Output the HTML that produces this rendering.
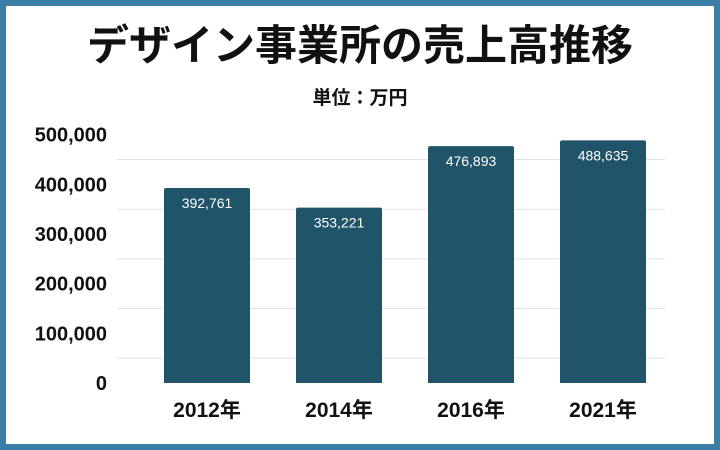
<!DOCTYPE html>
<html><head><meta charset="utf-8"><style>
html,body{margin:0;padding:0}
body{width:720px;height:450px;overflow:hidden;background:#fff;font-family:"Liberation Sans","Noto Sans CJK JP",sans-serif}
#frame{position:absolute;left:0;top:0;width:708px;height:438px;border:6px solid #3b7ea6;background:#fff}
</style></head><body>
<div id="frame"></div>
<svg width="720" height="450" style="position:absolute;left:0;top:0">
<text x="360" y="60" text-anchor="middle" font-size="42" font-weight="bold" fill="#111">デザイン事業所の売上高推移</text>
<text x="360" y="104" text-anchor="middle" font-size="19" font-weight="bold" fill="#111">単位：万円</text>
<g id="grid"></g><g id="yt"></g><g id="bars"></g><g id="xt"></g>
</svg>
<script>
const categories=["2012年","2014年","2016年","2021年"];
const values=[392761,353221,476893,488635];
const yTicks=[0,100000,200000,300000,400000,500000];
const gridVals=[50000,150000,250000,350000,450000];
const NS="http://www.w3.org/2000/svg";
const y0=383,pxPer=0.0004966;
const y=v=>y0-v*pxPer;
const x=i=>207+i*132;
const bw=86;
function mk(tag,attrs,parent,txt){const e=document.createElementNS(NS,tag);for(const k in attrs)e.setAttribute(k,attrs[k]);if(txt!=null)e.textContent=txt;document.getElementById(parent).appendChild(e);return e;}
const fmt=v=>v.toLocaleString("en-US");
gridVals.forEach(g=>{const l=mk("line",{x1:117,x2:665,y1:y(g),y2:y(g),stroke:"#e2e2e2","stroke-width":1},"grid");

});
yTicks.forEach(t=>{const e=mk("text",{x:107,y:y(t)+7,"text-anchor":"end","font-size":20,"font-weight":"bold",fill:"#111"},"yt",fmt(t));

});
values.forEach((v,i)=>{const top=y(v);
const r=mk("path",{d:`M${x(i)-bw/2},${y0} V${top+2} Q${x(i)-bw/2},${top} ${x(i)-bw/2+2},${top} H${x(i)+bw/2-2} Q${x(i)+bw/2},${top} ${x(i)+bw/2},${top+2} V${y0} Z`,fill:"#1f5469"},"bars");


const t=mk("text",{x:x(i),y:top+20,"text-anchor":"middle","font-size":14,fill:"#fff"},"bars",fmt(v));


const c=mk("text",{x:x(i),y:417,"text-anchor":"middle","font-size":21,"font-weight":"bold",fill:"#111"},"xt",categories[i]);

});
</script>
</body></html>
